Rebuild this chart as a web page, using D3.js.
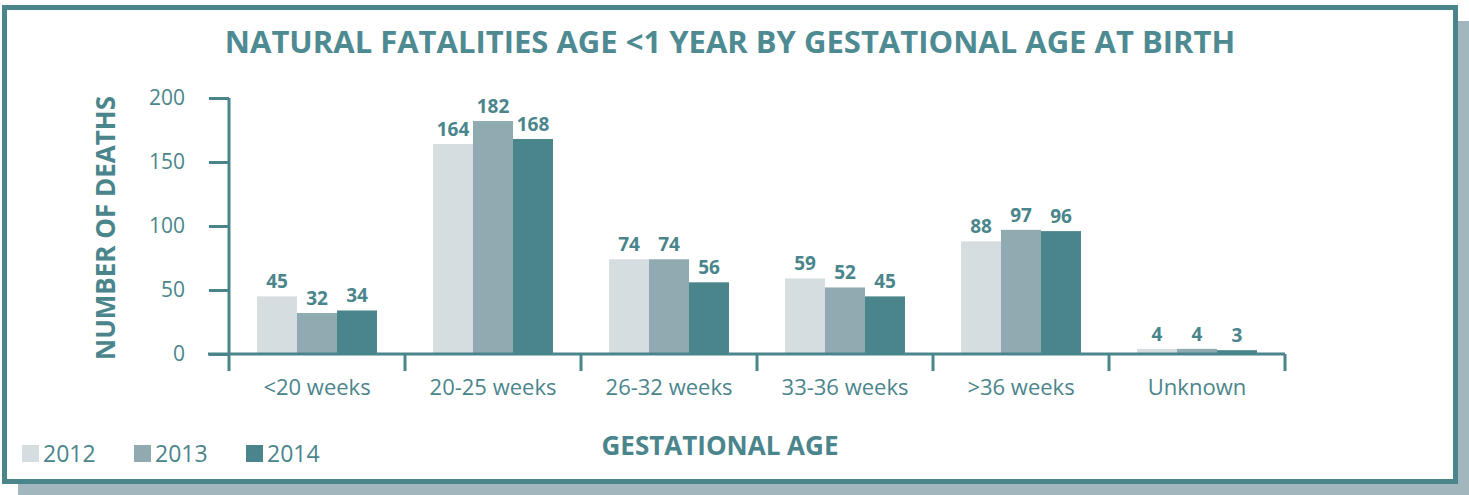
<!DOCTYPE html>
<html>
<head>
<meta charset="utf-8">
<script src="https://cdn.jsdelivr.net/npm/d3@7"></script>
<style>
  body { margin: 0; background: #fff; }
  svg text { font-family: 'Open Sans', 'Noto Sans', sans-serif; }
</style>
</head>
<body>
<script>
var categories = ['<20 weeks', '20-25 weeks', '26-32 weeks', '33-36 weeks', '>36 weeks', 'Unknown'];
var years = ['2012', '2013', '2014'];
var values2012 = [45, 164, 74, 59, 88, 4];
var values2013 = [32, 182, 74, 52, 97, 4];
var values2014 = [34, 168, 56, 45, 96, 3];
var yTicks = [0, 50, 100, 150, 200];

var series = [values2012, values2013, values2014];
var colours = d3.scaleOrdinal().domain(years).range(['#d5dde0', '#8fabb1', '#4b858c']);
var teal = '#4b858c';

var width = 1469, height = 495;
var svg = d3.select(document.body).append('svg').attr('width', width).attr('height', height);

// frame with shadow
svg.append('rect').attr('x', 18).attr('y', 21).attr('width', 1451).attr('height', 474).attr('fill', '#a1b7bd');
svg.append('rect').attr('x', 4.5).attr('y', 7.5).attr('width', 1451).attr('height', 474)
  .attr('fill', '#fff').attr('stroke', teal).attr('stroke-width', 5);

var margin = {left: 229, top: 98},
  plotW = 1285 - 229, plotH = 354 - 98;

var x = d3.scaleBand().domain(categories).range([0, plotW]).paddingInner(0).paddingOuter(0);
var x1 = d3.scaleBand().domain(years).range([28, x.bandwidth() - 28]);
var y = d3.scaleLinear().domain([0, 200]).range([plotH, 0]);

var chart = svg.append('g').attr('transform', 'translate(' + margin.left + ',' + margin.top + ')');

// title
svg.append('text').attr('x', 730).attr('y', 53).attr('text-anchor', 'middle')
  .attr('fill', '#4e8a91').attr('font-size', 31).attr('font-weight', 700)
  .text('NATURAL FATALITIES AGE <1 YEAR BY GESTATIONAL AGE AT BIRTH');

// bars
var groups = chart.selectAll('.grp').data(categories).enter().append('g')
  .attr('transform', function (d) { return 'translate(' + x(d) + ',0)'; });

groups.selectAll('rect').data(function (d, i) {
  return years.map(function (yr, j) { return {year: yr, value: series[j][i]}; });
}).enter().append('rect')
  .attr('x', function (d) { return x1(d.year); })
  .attr('y', function (d) { return y(d.value); })
  .attr('width', x1.bandwidth())
  .attr('height', function (d) { return plotH - y(d.value); })
  .attr('fill', function (d) { return colours(d.year); });

groups.selectAll('.lbl').data(function (d, i) {
  return years.map(function (yr, j) { return {year: yr, value: series[j][i]}; });
}).enter().append('text')
  .attr('x', function (d) { return x1(d.year) + x1.bandwidth() / 2; })
  .attr('y', function (d) { return y(d.value) - 8; })
  .attr('text-anchor', 'middle').attr('fill', teal)
  .attr('font-size', 19).attr('font-weight', 700)
  .text(function (d) { return d.value; });

// y axis
var yAxis = chart.append('g')
  .call(d3.axisLeft(y).tickValues(yTicks).tickSize(20).tickPadding(24));
yAxis.select('.domain').attr('stroke', teal).attr('stroke-width', 3).attr('d', 'M0,' + y(200) + 'V' + y(0));
yAxis.selectAll('line').attr('stroke', teal).attr('stroke-width', 3);
yAxis.selectAll('text').attr('fill', teal).attr('font-size', 21).attr('font-family', "'Open Sans', sans-serif");

// x axis
var xAxis = chart.append('g').attr('transform', 'translate(0,' + plotH + ')')
  .call(d3.axisBottom(x).tickSize(0).tickPadding(25));
xAxis.select('.domain').attr('stroke', teal).attr('stroke-width', 3).attr('d', 'M-21,0H' + plotW);
xAxis.selectAll('text').attr('fill', teal).attr('font-size', 22).attr('font-family', "'Open Sans', sans-serif");
var bounds = [0].concat(categories.map(function (c) { return x(c) + x.bandwidth(); }));
xAxis.selectAll('.sep').data(bounds).enter().append('line')
  .attr('x1', function (d) { return d; }).attr('x2', function (d) { return d; })
  .attr('y1', 0).attr('y2', 17).attr('stroke', teal).attr('stroke-width', 3);

// axis titles
svg.append('text').attr('transform', 'translate(115,228) rotate(-90)').attr('text-anchor', 'middle')
  .attr('fill', teal).attr('font-size', 26).attr('font-weight', 700).text('NUMBER OF DEATHS');
svg.append('text').attr('x', 720).attr('y', 455).attr('text-anchor', 'middle')
  .attr('fill', teal).attr('font-size', 26).attr('font-weight', 700).text('GESTATIONAL AGE');

// legend
var legX = [22, 134, 246];
var legend = svg.selectAll('.leg').data(years).enter().append('g')
  .attr('transform', function (d, i) { return 'translate(' + legX[i] + ',445)'; });
legend.append('rect').attr('width', 17).attr('height', 17).attr('fill', function (d) { return colours(d); });
legend.append('text').attr('x', 21).attr('y', 17).attr('fill', teal).attr('font-size', 23).text(function (d) { return d; });
</script>
</body>
</html>
